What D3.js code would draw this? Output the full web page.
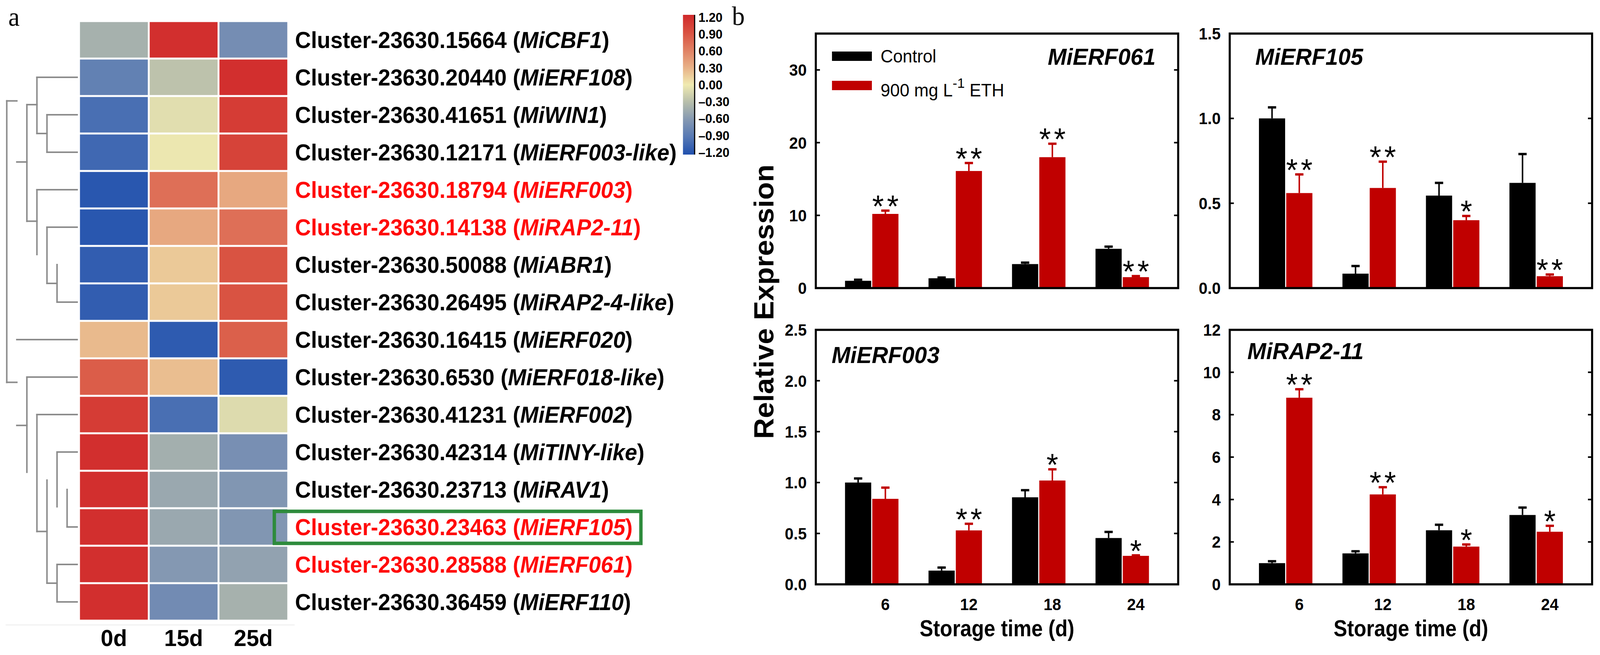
<!DOCTYPE html>
<html><head><meta charset="utf-8">
<script src="https://cdn.jsdelivr.net/npm/d3@7"></script>
<style>html,body{margin:0;padding:0;overflow:hidden;background:#fff}svg{display:block;width:100vw;height:100vh}</style>
</head><body>
<svg id="chart" viewBox="0 0 4252 1678" preserveAspectRatio="none"></svg>
<script>
// ---------------- DATA ----------------
const clusterIds = ["15664","20440","41651","12171","18794","14138","50088","26495","16415","6530","41231","42314","23713","23463","28588","36459"];
const geneNames = ["MiCBF1","MiERF108","MiWIN1","MiERF003-like","MiERF003","MiRAP2-11","MiABR1","MiRAP2-4-like","MiERF020","MiERF018-like","MiERF002","MiTINY-like","MiRAV1","MiERF105","MiERF061","MiERF110"];
const highlightedRows = [4,5,13,14];
const boxedRow = 13;
const timePoints = ["0d","15d","25d"];
const zScores = [
  [-0.40, 1.15, -0.70],
  [-0.82, -0.27, 1.15],
  [-0.97, -0.08, 1.05],
  [-1.02, -0.02, 1.00],
  [-1.15, 0.70, 0.35],
  [-1.15, 0.35, 0.70],
  [-1.10, 0.17, 0.88],
  [-1.10, 0.17, 0.88],
  [0.25, -1.12, 0.80],
  [0.82, 0.23, -1.12],
  [1.05, -0.97, -0.10],
  [1.15, -0.42, -0.68],
  [1.15, -0.47, -0.62],
  [1.15, -0.47, -0.62],
  [1.15, -0.60, -0.52],
  [1.15, -0.72, -0.40]
];
const legendTicks = [1.2, 0.9, 0.6, 0.3, 0.0, -0.3, -0.6, -0.9, -1.2];
// dendrogram segments: [level1, row1, level2, row2] (row units, level 0 = root side, 7 = leaves)
const dendroSegments = [
  [3,1.5,7,1.5],[3,1.5,3,3.0],[3,3.0,4,3.0],[4,2.5,4,3.5],[4,2.5,7,2.5],[4,3.5,7,3.5],
  [2,2.23,3,2.23],[2,2.23,2,5.34],[2,5.34,3,5.34],[3,4.5,3,6.23],[3,4.5,7,4.5],
  [4,5.5,7,5.5],[4,5.5,4,7.0],[4,7.0,5,7.0],[5,6.5,5,7.5],[5,7.5,7,7.5],
  [1,3.76,2,3.76],[0,2.13,1,2.13],[0,2.13,0,9.64],[0,9.64,1,9.64],
  [1,8.5,7,8.5],[2,9.5,7,9.5],[2,9.5,2,12.04],[1,10.79,2,10.79],
  [3,10.5,7,10.5],[3,10.5,3,13.62],[3,13.62,4,13.62],
  [5,11.5,7,11.5],[5,11.5,5,12.96],[6,12.5,6,13.5],[6,13.5,7,13.5],
  [4,12.25,4,15.0],[4,15.0,5,15.0],[5,14.5,5,15.5],[5,14.5,7,14.5],[5,15.5,7,15.5]
];

const storageDays = [6, 12, 18, 24];
const treatments = ["Control", "900 mg L-1 ETH"];
const panelGenes = ["MiERF061", "MiERF105", "MiERF003", "MiRAP2-11"];
const panelYMax = [35, 1.5, 2.5, 12];
const panelYTicks = [[0,10,20,30],[0.0,0.5,1.0,1.5],[0.0,0.5,1.0,1.5,2.0,2.5],[0,2,4,6,8,10,12]];
const controlMeans = [[1.0,1.35,3.3,5.4],[1.0,0.085,0.545,0.62],[1.0,0.135,0.855,0.455],[1.0,1.46,2.55,3.27]];
const controlErr   = [[0.15,0.1,0.2,0.3],[0.065,0.045,0.075,0.17],[0.04,0.03,0.07,0.06],[0.09,0.1,0.26,0.35]];
const ethMeans     = [[10.2,16.1,18.0,1.5],[0.56,0.59,0.40,0.07],[0.84,0.53,1.02,0.28],[8.8,4.24,1.78,2.48]];
const ethErr       = [[0.45,1.1,1.85,0.15],[0.11,0.155,0.025,0.01],[0.11,0.065,0.11,0.005],[0.4,0.34,0.1,0.28]];
const significance = [["**","**","**","**"],["**","**","*","**"],["","**","*","*"],["**","**","*","*"]];

// ---------------- STYLE / LAYOUT ----------------
const SANS = "'Liberation Sans', Arial, Helvetica, sans-serif";
const SERIF = "'Liberation Serif', 'Times New Roman', serif";
const colorStops = ["#d0282a","#d95040","#e07f62","#e8b086","#f0eab0","#b7beab","#8498b2","#5678b4","#2050ae"];
const svg = d3.select("#chart");
svg.append("rect").attr("width",4252).attr("height",1678).attr("fill","#fff");

// ---------------- PANEL A: HEATMAP ----------------
const rows = d3.range(clusterIds.length);
const hmX = d3.scaleBand().domain(timePoints).range([210, 766]);
const hmY = d3.scaleBand().domain(rows).range([54, 1590]);
const rowScale = d3.scaleLinear().domain([0, rows.length]).range([54, 1590]);
const heatColor = d3.scaleLinear().domain(legendTicks).range(colorStops).interpolate(d3.interpolateRgb).clamp(true);

const gA = svg.append("g");
const cells = [];
rows.forEach(r => timePoints.forEach((t, c) => cells.push({r, t, v: zScores[r][c]})));
gA.selectAll("rect.cell").data(cells).join("rect")
  .attr("x", d => hmX(d.t) + 2.5).attr("y", d => hmY(d.r) + 2.5)
  .attr("width", hmX.bandwidth() - 5).attr("height", hmY.bandwidth() - 5)
  .attr("fill", d => heatColor(d.v));

// dendrogram
const dX = d3.scaleLinear().domain([0, 7]).range([18, 205]);
gA.selectAll("line.dend").data(dendroSegments).join("line")
  .attr("x1", d => dX(d[0])).attr("y1", d => rowScale(d[1]))
  .attr("x2", d => dX(d[2])).attr("y2", d => rowScale(d[3]))
  .attr("stroke", "#8c8c8c").attr("stroke-width", 4).attr("stroke-linecap", "square");

// faint base line
gA.append("line").attr("x1", 15).attr("x2", 783).attr("y1", 1601).attr("y2", 1601)
  .attr("stroke", "#ececec").attr("stroke-width", 2);

// row labels
const labels = gA.selectAll("text.rowlab").data(rows).join("text")
  .attr("x", 784).attr("y", r => hmY(r) + hmY.bandwidth() / 2).attr("dy", "0.36em")
  .attr("font-family", SANS).attr("font-weight", "bold").attr("font-size", 58.5)
  .attr("fill", r => highlightedRows.includes(r) ? "#ff0a0a" : "#000");
labels.append("tspan").text(r => "Cluster-23630." + clusterIds[r] + " (");
labels.append("tspan").attr("font-style", "italic").text(r => geneNames[r]);
labels.append("tspan").text(")");

// green box around highlighted row label
const bb = labels.filter(r => r === boxedRow).node().getBBox();
const boxLeft = hmX.range()[1] - 37;
const boxRight = bb.x + bb.width + 22;
gA.append("rect").attr("x", boxLeft).attr("y", hmY(boxedRow) + 8)
  .attr("width", boxRight - boxLeft).attr("height", hmY.bandwidth() - 14)
  .attr("fill", "none").attr("stroke", "#2e8b3c").attr("stroke-width", 9);

// column labels
gA.selectAll("text.collab").data(timePoints).join("text")
  .attr("x", t => hmX(t) + hmX.bandwidth() / 2).attr("y", 1655)
  .attr("text-anchor", "middle").attr("font-family", SANS).attr("font-weight", "bold").attr("font-size", 60)
  .text(t => t);

// colour legend
const defs = svg.append("defs");
const grad = defs.append("linearGradient").attr("id", "lg").attr("x1", 0).attr("x2", 0).attr("y1", 0).attr("y2", 1);
legendTicks.forEach((v, i) => grad.append("stop").attr("offset", i / (legendTicks.length - 1)).attr("stop-color", heatColor(v)));
const legY = d3.scaleLinear().domain([1.2, -1.2]).range([44, 390]);
svg.append("rect").attr("x", 1815).attr("y", legY(1.2) - 6).attr("width", 30).attr("height", legY(-1.2) - legY(1.2) + 12).attr("fill", "url(#lg)");
svg.append("line").attr("x1", 1846).attr("x2", 1846).attr("y1", legY(1.2) - 6).attr("y2", legY(-1.2) + 6).attr("stroke", "#000").attr("stroke-width", 3);
svg.selectAll("text.leg").data(legendTicks).join("text")
  .attr("x", 1856).attr("y", d => legY(d)).attr("dy", "0.36em")
  .attr("font-family", SANS).attr("font-weight", "bold").attr("font-size", 33)
  .text(d => (d < 0 ? "\u2013" : "") + Math.abs(d).toFixed(2));

// panel letters
svg.append("text").attr("x", 22).attr("y", 66).attr("font-family", SERIF).attr("font-size", 68).text("a");
svg.append("text").attr("x", 1945).attr("y", 64).attr("font-family", SERIF).attr("font-size", 68).text("b");

// ---------------- PANEL B: BAR CHARTS ----------------
const panelBoxes = [{L:2168,T:86},{L:3268,T:86},{L:2168,T:845},{L:3268,T:845}];
const PW = 963, PH = 652;
const barColors = ["#000000", "#c00000"];

panelGenes.forEach((gene, p) => {
  const {L, T} = panelBoxes[p];
  const R = L + PW, B = T + PH;
  const g = svg.append("g");
  const y = d3.scaleLinear().domain([0, panelYMax[p]]).range([B, T]);
  const x = d3.scaleBand().domain(storageDays).range([L, R]).paddingOuter(0.17).paddingInner(0);
  const sub = d3.scaleBand().domain(treatments).range([x.bandwidth() * 0.18, x.bandwidth() * 0.82]).paddingInner(0.04);
  const bars = [];
  storageDays.forEach((d, i) => {
    bars.push({day: d, t: treatments[0], v: controlMeans[p][i], e: controlErr[p][i], c: barColors[0], s: ""});
    bars.push({day: d, t: treatments[1], v: ethMeans[p][i], e: ethErr[p][i], c: barColors[1], s: significance[p][i]});
  });
  const cx = d => x(d.day) + sub(d.t) + sub.bandwidth() / 2;
  // error bars
  g.selectAll("line.err").data(bars).join("line")
    .attr("x1", cx).attr("x2", cx).attr("y1", d => y(d.v)).attr("y2", d => y(d.v + d.e))
    .attr("stroke", d => d.c).attr("stroke-width", 4);
  g.selectAll("line.cap").data(bars).join("line")
    .attr("x1", d => cx(d) - 11).attr("x2", d => cx(d) + 11).attr("y1", d => y(d.v + d.e)).attr("y2", d => y(d.v + d.e))
    .attr("stroke", d => d.c).attr("stroke-width", 6);
  g.selectAll("rect.bar").data(bars).join("rect")
    .attr("x", d => x(d.day) + sub(d.t)).attr("width", sub.bandwidth())
    .attr("y", d => y(d.v)).attr("height", d => y(0) - y(d.v)).attr("fill", d => d.c);
  // significance
  g.selectAll("text.sig").data(bars.filter(d => d.s)).join("text")
    .attr("x", d => cx(d) + (d.s.length > 1 ? 4 : 0)).attr("y", d => y(d.v + d.e) + 16)
    .attr("text-anchor", "middle").attr("font-family", SANS).attr("font-size", 80)
    .attr("letter-spacing", d => d.s.length > 1 ? 8 : 0).text(d => d.s);
  // frame
  g.append("rect").attr("x", L).attr("y", T).attr("width", PW).attr("height", PH)
    .attr("fill", "none").attr("stroke", "#000").attr("stroke-width", 5.5);
  // y ticks (inward both sides)
  const fmt = (p === 0 || p === 3) ? d3.format("d") : d3.format(".1f");
  panelYTicks[p].forEach(v => {
    g.append("line").attr("x1", L).attr("x2", L + 11).attr("y1", y(v)).attr("y2", y(v)).attr("stroke", "#000").attr("stroke-width", 4);
    g.append("line").attr("x1", R - 11).attr("x2", R).attr("y1", y(v)).attr("y2", y(v)).attr("stroke", "#000").attr("stroke-width", 4);
  });
  g.selectAll("text.yt").data(panelYTicks[p]).join("text")
    .attr("x", L - 24).attr("y", v => y(v)).attr("dy", "0.36em").attr("text-anchor", "end")
    .attr("font-family", SANS).attr("font-weight", "bold").attr("font-size", 42).text(v => fmt(v));
  // gene title
  const titleSpec = [{x: R - 60, y: T + 80, a: "end"}, {x: L + 68, y: T + 80, a: "start"}, {x: L + 42, y: T + 85, a: "start"}, {x: L + 47, y: T + 75, a: "start"}][p];
  g.append("text").attr("x", titleSpec.x).attr("y", titleSpec.y).attr("text-anchor", titleSpec.a)
    .attr("font-family", SANS).attr("font-weight", "bold").attr("font-style", "italic").attr("font-size", 60).text(gene);
  // x labels on bottom row
  if (p >= 2) {
    g.selectAll("text.xt").data(storageDays).join("text")
      .attr("x", d => x(d) + sub(treatments[1]) + sub.bandwidth() / 2).attr("y", B + 66)
      .attr("text-anchor", "middle").attr("font-family", SANS).attr("font-weight", "bold").attr("font-size", 42).text(d => d);
    g.append("text").attr("transform", `translate(${L + PW / 2},1630) scale(0.9,1)`).attr("text-anchor", "middle")
      .attr("font-family", SANS).attr("font-weight", "bold").attr("font-size", 60).text("Storage time (d)");
  }
  // legend in first panel
  if (p === 0) {
    treatments.forEach((t, i) => {
      g.append("rect").attr("x", L + 43).attr("y", T + 46 + i * 75).attr("width", 106).attr("height", 24).attr("fill", barColors[i]);
    });
    g.append("text").attr("x", L + 172).attr("y", T + 74).attr("font-family", SANS).attr("font-size", 46).text("Control");
    const t2 = g.append("text").attr("x", L + 172).attr("y", T + 161).attr("font-family", SANS).attr("font-size", 46);
    t2.append("tspan").text("900 mg L");
    t2.append("tspan").attr("dy", -22).attr("font-size", 36).text("-1");
    t2.append("tspan").attr("dy", 22).text(" ETH");
  }
});

// shared y-axis title
svg.append("text").attr("transform", "translate(2055,773) rotate(-90)").attr("text-anchor", "middle")
  .attr("font-family", SANS).attr("font-weight", "bold").attr("font-size", 74).text("Relative Expression");
</script>
</body></html>
